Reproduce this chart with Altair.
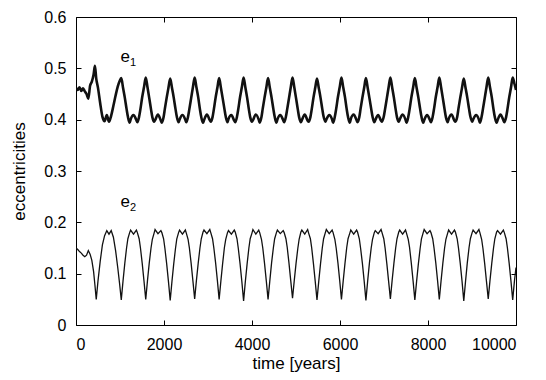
import altair as alt
import pandas as pd

# ---- data ----
years = [
    0, 40, 80, 120, 160, 200, 240, 280, 320, 360, 400, 430, 460, 500, 550, 600, 650, 700, 750, 800, 850, 900, 950, 990,
    1029, 1069, 1109, 1149, 1179, 1219, 1241, 1307, 1373, 1395, 1435, 1465, 1505, 1545,
    1585, 1625, 1665, 1705, 1735, 1775, 1797, 1863, 1929, 1951, 1991, 2021, 2061, 2101,
    2141, 2181, 2221, 2261, 2291, 2331, 2353, 2419, 2485, 2507, 2547, 2577, 2617, 2657,
    2697, 2737, 2777, 2817, 2847, 2887, 2909, 2975, 3041, 3063, 3103, 3133, 3173, 3213,
    3253, 3293, 3333, 3373, 3403, 3443, 3465, 3531, 3597, 3619, 3659, 3689, 3729, 3769,
    3809, 3849, 3889, 3929, 3959, 3999, 4021, 4087, 4153, 4175, 4215, 4245, 4285, 4325,
    4365, 4405, 4445, 4485, 4515, 4555, 4577, 4643, 4709, 4731, 4771, 4801, 4841, 4881,
    4921, 4961, 5001, 5041, 5071, 5111, 5133, 5199, 5265, 5287, 5327, 5357, 5397, 5437,
    5477, 5517, 5557, 5597, 5627, 5667, 5689, 5755, 5821, 5843, 5883, 5913, 5953, 5993,
    6033, 6073, 6113, 6153, 6183, 6223, 6245, 6311, 6377, 6399, 6439, 6469, 6509, 6549,
    6589, 6629, 6669, 6709, 6739, 6779, 6801, 6867, 6933, 6955, 6995, 7025, 7065, 7105,
    7145, 7185, 7225, 7265, 7295, 7335, 7357, 7423, 7489, 7511, 7551, 7581, 7621, 7661,
    7701, 7741, 7781, 7821, 7851, 7891, 7913, 7979, 8045, 8067, 8107, 8137, 8177, 8217,
    8257, 8297, 8337, 8377, 8407, 8447, 8469, 8535, 8601, 8623, 8663, 8693, 8733, 8773,
    8813, 8853, 8893, 8933, 8963, 9003, 9025, 9091, 9157, 9179, 9219, 9249, 9289, 9329,
    9369, 9409, 9449, 9489, 9519, 9559, 9581, 9647, 9713, 9735, 9775, 9805, 9845, 9885,
    9925, 9965, 10000,
]

e1 = [
    0.462, 0.458, 0.463, 0.456, 0.461, 0.455, 0.450, 0.441, 0.466, 0.474, 0.488, 0.505, 0.480, 0.462, 0.432, 0.406, 0.397, 0.409, 0.396, 0.408, 0.427, 0.447, 0.465, 0.475,
    0.481, 0.462, 0.443, 0.421, 0.406, 0.394, 0.400, 0.409, 0.399, 0.395, 0.406, 0.421, 0.444, 0.463,
    0.482, 0.463, 0.442, 0.420, 0.405, 0.396, 0.399, 0.410, 0.398, 0.394, 0.405, 0.422, 0.443, 0.462,
    0.480, 0.462, 0.443, 0.421, 0.406, 0.395, 0.400, 0.409, 0.400, 0.395, 0.406, 0.421, 0.442, 0.463,
    0.482, 0.463, 0.444, 0.420, 0.405, 0.394, 0.399, 0.410, 0.399, 0.396, 0.405, 0.420, 0.443, 0.462,
    0.481, 0.462, 0.442, 0.421, 0.406, 0.395, 0.401, 0.409, 0.398, 0.395, 0.406, 0.421, 0.444, 0.463,
    0.482, 0.463, 0.443, 0.420, 0.405, 0.396, 0.399, 0.410, 0.400, 0.394, 0.405, 0.422, 0.443, 0.462,
    0.481, 0.462, 0.443, 0.421, 0.406, 0.394, 0.400, 0.409, 0.399, 0.395, 0.406, 0.421, 0.442, 0.463,
    0.482, 0.463, 0.442, 0.420, 0.405, 0.395, 0.399, 0.410, 0.398, 0.396, 0.405, 0.420, 0.443, 0.462,
    0.480, 0.462, 0.443, 0.421, 0.406, 0.396, 0.400, 0.409, 0.400, 0.394, 0.406, 0.421, 0.444, 0.463,
    0.482, 0.463, 0.444, 0.420, 0.405, 0.394, 0.401, 0.410, 0.399, 0.395, 0.405, 0.422, 0.443, 0.462,
    0.481, 0.462, 0.442, 0.421, 0.406, 0.395, 0.399, 0.409, 0.398, 0.396, 0.406, 0.421, 0.442, 0.463,
    0.482, 0.463, 0.443, 0.420, 0.405, 0.396, 0.400, 0.410, 0.400, 0.394, 0.405, 0.420, 0.443, 0.462,
    0.481, 0.462, 0.443, 0.421, 0.406, 0.394, 0.399, 0.409, 0.399, 0.395, 0.406, 0.421, 0.444, 0.463,
    0.482, 0.463, 0.442, 0.420, 0.405, 0.395, 0.401, 0.410, 0.398, 0.396, 0.405, 0.422, 0.443, 0.462,
    0.480, 0.462, 0.443, 0.421, 0.406, 0.396, 0.400, 0.409, 0.400, 0.394, 0.406, 0.421, 0.442, 0.463,
    0.482, 0.463, 0.444, 0.420, 0.405, 0.394, 0.399, 0.410, 0.399, 0.395, 0.405, 0.420, 0.443, 0.462,
    0.482, 0.470, 0.458,
]

e2 = [
    0.150, 0.147, 0.143, 0.140, 0.136, 0.133, 0.136, 0.145, 0.138, 0.126, 0.104, 0.078, 0.050, 0.086, 0.124, 0.156, 0.174, 0.184, 0.177, 0.184, 0.171, 0.145, 0.111, 0.081,
    0.049, 0.086, 0.120, 0.150, 0.168, 0.180, 0.185, 0.177, 0.185, 0.180, 0.168, 0.150, 0.120, 0.086,
    0.050, 0.087, 0.121, 0.150, 0.167, 0.179, 0.186, 0.178, 0.184, 0.180, 0.168, 0.149, 0.119, 0.085,
    0.048, 0.085, 0.119, 0.149, 0.168, 0.180, 0.185, 0.177, 0.185, 0.179, 0.167, 0.150, 0.120, 0.086,
    0.051, 0.087, 0.120, 0.150, 0.168, 0.181, 0.185, 0.178, 0.186, 0.180, 0.168, 0.150, 0.121, 0.087,
    0.050, 0.086, 0.120, 0.151, 0.167, 0.180, 0.184, 0.177, 0.185, 0.181, 0.168, 0.149, 0.119, 0.085,
    0.047, 0.085, 0.119, 0.150, 0.168, 0.179, 0.186, 0.177, 0.185, 0.180, 0.167, 0.150, 0.120, 0.086,
    0.050, 0.086, 0.121, 0.150, 0.168, 0.180, 0.185, 0.178, 0.184, 0.180, 0.168, 0.151, 0.120, 0.086,
    0.052, 0.087, 0.120, 0.149, 0.167, 0.181, 0.185, 0.177, 0.186, 0.179, 0.168, 0.150, 0.119, 0.085,
    0.049, 0.085, 0.119, 0.150, 0.168, 0.180, 0.186, 0.178, 0.185, 0.180, 0.167, 0.150, 0.121, 0.087,
    0.050, 0.086, 0.120, 0.151, 0.168, 0.179, 0.185, 0.177, 0.185, 0.181, 0.168, 0.149, 0.120, 0.086,
    0.048, 0.086, 0.121, 0.150, 0.167, 0.180, 0.184, 0.178, 0.186, 0.180, 0.168, 0.150, 0.119, 0.085,
    0.051, 0.087, 0.120, 0.150, 0.168, 0.181, 0.185, 0.177, 0.185, 0.179, 0.167, 0.151, 0.120, 0.086,
    0.049, 0.085, 0.119, 0.149, 0.168, 0.180, 0.186, 0.178, 0.184, 0.180, 0.168, 0.150, 0.121, 0.087,
    0.050, 0.086, 0.120, 0.150, 0.167, 0.179, 0.185, 0.177, 0.185, 0.181, 0.168, 0.150, 0.120, 0.086,
    0.047, 0.085, 0.121, 0.151, 0.168, 0.180, 0.185, 0.178, 0.186, 0.180, 0.167, 0.149, 0.119, 0.085,
    0.051, 0.087, 0.120, 0.150, 0.168, 0.181, 0.184, 0.177, 0.185, 0.180, 0.168, 0.150, 0.120, 0.086,
    0.049, 0.086, 0.112,
]

x_ticks = [0, 2000, 4000, 6000, 8000, 10000]
y_ticks = [0, 0.1, 0.2, 0.3, 0.4, 0.5, 0.6]

label_names = ["e", "e"]
label_subs = ["1", "2"]
label_years = [1010, 1010]
label_values = [0.512, 0.230]

# ---- tables ----
df = pd.DataFrame({"t": years, "e1": e1, "e2": e2})
labels = pd.DataFrame({"t": label_years, "v": label_values,
                       "name": label_names, "sub": label_subs})

FONT = "Liberation Sans"
TICK = 5
INK = "#111111"

xs = alt.Scale(domain=[0, 10000], nice=False, zero=False)
ys = alt.Scale(domain=[0, 0.6], nice=False, zero=False)

common_axis = dict(offset=-TICK, tickSize=TICK, domain=False, grid=False,
                   tickColor="black", tickWidth=1)

x_bottom = alt.Axis(orient="bottom", values=x_ticks, format="d",
                    title="time [years]", labelPadding=11, titlePadding=3,
                    **common_axis)
y_left = alt.Axis(orient="left", values=y_ticks, format=".1~f",
                  title="eccentricities", labelPadding=10, titlePadding=15,
                  **common_axis)
x_top = alt.Axis(orient="top", values=x_ticks, labels=False, title=None,
                 **common_axis)
y_right = alt.Axis(orient="right", values=y_ticks, labels=False, title=None,
                   **common_axis)

base = alt.Chart(df)

line1 = base.mark_line(color=INK, strokeWidth=2.6, clip=True,
                       interpolate="monotone").encode(
    x=alt.X("t:Q", scale=xs, axis=x_bottom),
    y=alt.Y("e1:Q", scale=ys, axis=y_left),
)
line2 = base.mark_line(color=INK, strokeWidth=1.3, clip=True).encode(
    x=alt.X("t:Q", scale=xs, axis=x_top),
    y=alt.Y("e2:Q", scale=ys, axis=y_right),
)

lab_base = alt.Chart(labels).encode(
    x=alt.X("t:Q", scale=xs, axis=None),
    y=alt.Y("v:Q", scale=ys, axis=None),
)
lab_main = lab_base.mark_text(font=FONT, fontSize=17, align="left",
                              baseline="alphabetic", color="black").encode(text="name:N")
lab_sub = lab_base.mark_text(font=FONT, fontSize=11, align="left", dx=9.5, dy=4,
                             baseline="alphabetic", color="black").encode(text="sub:N")

chart = alt.layer(line1, line2, lab_main, lab_sub).resolve_axis(
    x="independent", y="independent"
).properties(
    width=440, height=308,
    autosize=alt.AutoSizeParams(type="none"),
    padding={"left": 68, "top": 9, "right": 22, "bottom": 47},
).configure_view(
    stroke="black", strokeWidth=1
).configure_axis(
    labelFont=FONT, titleFont=FONT, labelFontSize=16, titleFontSize=17,
    labelColor="black", titleColor="black", titleFontWeight="normal"
)

chart.save("out.html", embed_options={"renderer": "svg", "actions": False})
